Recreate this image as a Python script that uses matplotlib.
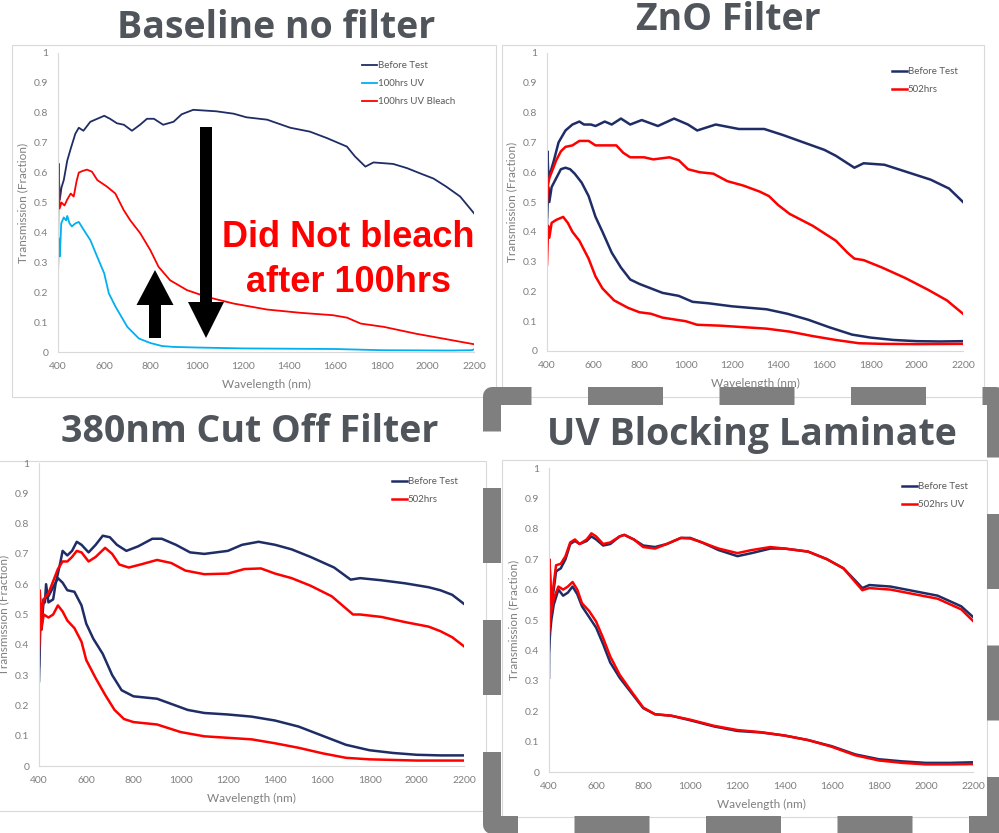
import numpy as np
import matplotlib
matplotlib.use('Agg')
import matplotlib.pyplot as plt
from matplotlib.patches import Rectangle, FancyArrow

plt.rcParams['lines.scale_dashes'] = False

W, H = 999, 833
NAVY = '#1f2d66'
RED = '#ff0000'
CYAN = '#00b0f0'
TITLE = '#4f555b'
TXT = '#7f7f7f'

# ---- data (wavelength nm, transmission fraction) ----
# Baseline no filter
base_before = np.array([[400, 0.47], [403, 0.60], [408, 0.51], [415, 0.55], [425, 0.575], [440, 0.64],
    [455, 0.68], [475, 0.73], [490, 0.75], [510, 0.74], [540, 0.77], [570, 0.78], [600, 0.79],
    [625, 0.78], [655, 0.765], [685, 0.76], [720, 0.74], [755, 0.76], [785, 0.78], [815, 0.78],
    [855, 0.76], [900, 0.77], [935, 0.795], [985, 0.81], [1085, 0.805], [1160, 0.797], [1215, 0.785],
    [1305, 0.777], [1405, 0.75], [1490, 0.737], [1565, 0.715], [1650, 0.687], [1685, 0.654],
    [1730, 0.62], [1765, 0.634], [1850, 0.629], [1910, 0.615], [1965, 0.598], [2025, 0.58],
    [2080, 0.553], [2140, 0.52], [2200, 0.464]])
base_uv = np.array([[400, 0.26], [404, 0.38], [408, 0.32], [414, 0.43], [425, 0.45], [435, 0.44],
    [440, 0.455], [450, 0.43], [460, 0.42], [475, 0.43], [490, 0.435], [510, 0.41], [540, 0.374],
    [570, 0.318], [600, 0.263], [620, 0.196], [650, 0.15], [700, 0.084], [750, 0.045], [800, 0.03],
    [850, 0.02], [900, 0.017], [1000, 0.015], [1200, 0.012], [1600, 0.01], [1800, 0.006],
    [2100, 0.005], [2190, 0.006], [2200, 0.009]])
base_bleach = np.array([[400, 0.28], [403, 0.63], [407, 0.48], [415, 0.50], [428, 0.49], [440, 0.51],
    [455, 0.53], [468, 0.52], [480, 0.57], [490, 0.60], [505, 0.605], [525, 0.61], [547, 0.603],
    [570, 0.575], [612, 0.553], [648, 0.53], [684, 0.475], [713, 0.44], [756, 0.397], [800, 0.34],
    [835, 0.285], [885, 0.24], [958, 0.207], [1045, 0.184], [1160, 0.162], [1305, 0.142],
    [1450, 0.131], [1590, 0.123], [1650, 0.115], [1710, 0.095], [1810, 0.084], [1950, 0.061],
    [2065, 0.045], [2200, 0.026]])

# ZnO Filter
zno_before_a = np.array([[400, 0.42], [402, 0.67], [406, 0.58], [415, 0.60], [430, 0.64], [450, 0.70],
    [465, 0.72], [480, 0.74], [510, 0.76], [540, 0.77], [560, 0.76], [590, 0.76], [610, 0.755],
    [650, 0.77], [680, 0.76], [720, 0.78], [760, 0.76], [810, 0.775], [880, 0.755], [950, 0.78],
    [1010, 0.76], [1050, 0.74], [1130, 0.76], [1230, 0.745], [1340, 0.745], [1420, 0.725],
    [1510, 0.70], [1600, 0.675], [1650, 0.655], [1730, 0.615], [1770, 0.63], [1860, 0.625],
    [1960, 0.60], [2060, 0.575], [2140, 0.545], [2200, 0.50]])
zno_before_b = np.array([[400, 0.45], [405, 0.55], [410, 0.50], [420, 0.55], [440, 0.58], [460, 0.61],
    [480, 0.615], [500, 0.61], [520, 0.595], [550, 0.565], [580, 0.52], [610, 0.45], [640, 0.40],
    [680, 0.33], [720, 0.28], [760, 0.24], [800, 0.225], [850, 0.21], [900, 0.195], [970, 0.185],
    [1030, 0.165], [1100, 0.16], [1200, 0.15], [1350, 0.14], [1440, 0.125], [1530, 0.105],
    [1620, 0.08], [1720, 0.055], [1800, 0.045], [1900, 0.037], [2000, 0.033], [2100, 0.032],
    [2200, 0.033]])
zno_502_a = np.array([[400, 0.50], [405, 0.56], [410, 0.58], [420, 0.60], [440, 0.64], [460, 0.67],
    [480, 0.685], [510, 0.69], [540, 0.705], [580, 0.705], [610, 0.69], [650, 0.69], [700, 0.69],
    [730, 0.665], [760, 0.65], [820, 0.65], [860, 0.643], [930, 0.65], [970, 0.64], [1010, 0.61],
    [1060, 0.60], [1120, 0.595], [1180, 0.57], [1250, 0.555], [1320, 0.535], [1360, 0.52],
    [1400, 0.49], [1450, 0.46], [1550, 0.42], [1650, 0.37], [1700, 0.33], [1730, 0.31],
    [1770, 0.305], [1850, 0.28], [1950, 0.245], [2050, 0.205], [2130, 0.17], [2200, 0.125]])
zno_502_b = np.array([[400, 0.29], [405, 0.42], [410, 0.38], [420, 0.43], [440, 0.44], [470, 0.45],
    [490, 0.43], [510, 0.40], [540, 0.37], [580, 0.31], [610, 0.25], [640, 0.21], [690, 0.17],
    [750, 0.145], [800, 0.13], [850, 0.125], [900, 0.112], [1000, 0.10], [1050, 0.088],
    [1150, 0.085], [1250, 0.08], [1350, 0.075], [1450, 0.065], [1550, 0.05], [1650, 0.037],
    [1750, 0.026], [1850, 0.024], [2000, 0.023], [2200, 0.024]])

# 380nm Cut Off Filter
cut_before_a = np.array([[400, 0.28], [405, 0.45], [410, 0.50], [420, 0.55], [425, 0.54], [430, 0.60],
    [440, 0.54], [460, 0.55], [470, 0.60], [490, 0.67], [500, 0.71], [520, 0.695], [540, 0.71],
    [560, 0.74], [580, 0.73], [610, 0.705], [640, 0.73], [670, 0.76], [700, 0.755], [730, 0.73],
    [770, 0.71], [820, 0.725], [880, 0.75], [920, 0.75], [980, 0.73], [1040, 0.705], [1100, 0.70],
    [1200, 0.71], [1260, 0.73], [1330, 0.74], [1400, 0.73], [1470, 0.715], [1550, 0.69],
    [1650, 0.655], [1720, 0.615], [1760, 0.62], [1850, 0.613], [1950, 0.603], [2050, 0.59],
    [2100, 0.58], [2150, 0.565], [2200, 0.535]])
cut_before_b = np.array([[400, 0.33], [405, 0.50], [410, 0.45], [420, 0.55], [440, 0.56], [460, 0.59],
    [480, 0.62], [500, 0.605], [520, 0.58], [550, 0.575], [580, 0.53], [600, 0.47], [630, 0.42],
    [670, 0.37], [710, 0.30], [750, 0.25], [800, 0.23], [900, 0.222], [960, 0.205], [1030, 0.185],
    [1100, 0.175], [1200, 0.17], [1300, 0.163], [1400, 0.15], [1500, 0.13], [1600, 0.10],
    [1700, 0.07], [1800, 0.052], [1900, 0.043], [2000, 0.037], [2100, 0.035], [2200, 0.035]])
cut_502_a = np.array([[400, 0.40], [403, 0.58], [410, 0.50], [420, 0.55], [440, 0.57], [460, 0.61],
    [480, 0.65], [500, 0.675], [520, 0.675], [540, 0.69], [560, 0.71], [580, 0.705], [610, 0.675],
    [640, 0.69], [680, 0.72], [710, 0.70], [740, 0.665], [780, 0.655], [830, 0.665], [900, 0.68],
    [960, 0.67], [1020, 0.645], [1100, 0.633], [1200, 0.635], [1270, 0.65], [1340, 0.652],
    [1400, 0.635], [1470, 0.62], [1550, 0.595], [1640, 0.56], [1700, 0.52], [1730, 0.50],
    [1760, 0.50], [1850, 0.492], [1950, 0.475], [2050, 0.46], [2100, 0.445], [2150, 0.425],
    [2200, 0.395]])
cut_502_b = np.array([[400, 0.38], [405, 0.50], [410, 0.45], [420, 0.50], [440, 0.49], [460, 0.50],
    [480, 0.53], [500, 0.51], [520, 0.48], [550, 0.455], [580, 0.41], [600, 0.35], [640, 0.29],
    [680, 0.235], [720, 0.185], [760, 0.155], [800, 0.145], [900, 0.137], [1000, 0.112],
    [1100, 0.098], [1200, 0.093], [1300, 0.088], [1400, 0.075], [1500, 0.06], [1600, 0.042],
    [1700, 0.027], [1800, 0.022], [2000, 0.018], [2200, 0.018]])

# UV Blocking Laminate
lam_before_a = np.array([[400, 0.31], [403, 0.67], [410, 0.55], [420, 0.60], [430, 0.66], [450, 0.67],
    [470, 0.70], [490, 0.75], [510, 0.76], [530, 0.75], [560, 0.76], [580, 0.775], [600, 0.765],
    [630, 0.745], [660, 0.75], [700, 0.775], [720, 0.78], [760, 0.765], [800, 0.745], [850, 0.74],
    [900, 0.75], [960, 0.77], [1000, 0.77], [1050, 0.755], [1120, 0.73], [1200, 0.71], [1260, 0.72],
    [1340, 0.735], [1400, 0.735], [1500, 0.725], [1580, 0.70], [1650, 0.67], [1700, 0.63],
    [1730, 0.605], [1760, 0.615], [1850, 0.61], [1950, 0.595], [2050, 0.58], [2150, 0.545],
    [2200, 0.51]])
lam_before_b = np.array([[400, 0.40], [405, 0.46], [410, 0.50], [420, 0.55], [440, 0.60], [460, 0.58],
    [480, 0.59], [500, 0.61], [520, 0.585], [540, 0.545], [570, 0.51], [600, 0.475], [630, 0.42],
    [660, 0.36], [700, 0.31], [750, 0.26], [800, 0.21], [850, 0.19], [920, 0.185], [1000, 0.17],
    [1100, 0.15], [1200, 0.135], [1300, 0.13], [1400, 0.12], [1500, 0.105], [1600, 0.085],
    [1700, 0.058], [1800, 0.042], [1900, 0.035], [2000, 0.03], [2100, 0.03], [2200, 0.032]])
lam_502_a = np.array([[400, 0.46], [402, 0.70], [410, 0.55], [420, 0.62], [430, 0.68], [450, 0.685],
    [470, 0.71], [490, 0.755], [510, 0.765], [530, 0.75], [560, 0.765], [580, 0.785], [600, 0.775],
    [630, 0.75], [660, 0.755], [700, 0.775], [720, 0.78], [760, 0.765], [800, 0.74], [850, 0.735],
    [900, 0.75], [960, 0.77], [1000, 0.768], [1050, 0.755], [1120, 0.735], [1200, 0.72],
    [1260, 0.73], [1340, 0.74], [1400, 0.735], [1500, 0.725], [1580, 0.70], [1650, 0.67],
    [1700, 0.625], [1730, 0.598], [1760, 0.605], [1850, 0.60], [1950, 0.585], [2050, 0.57],
    [2150, 0.535], [2200, 0.497]])
lam_502_b = np.array([[400, 0.46], [405, 0.50], [410, 0.53], [420, 0.57], [440, 0.61], [460, 0.60],
    [480, 0.61], [500, 0.625], [520, 0.60], [540, 0.555], [570, 0.53], [600, 0.495], [630, 0.44],
    [660, 0.38], [700, 0.32], [750, 0.265], [800, 0.212], [850, 0.19], [920, 0.185], [1000, 0.172],
    [1100, 0.152], [1200, 0.138], [1300, 0.131], [1400, 0.12], [1500, 0.105], [1600, 0.083],
    [1700, 0.055], [1800, 0.038], [1900, 0.03], [2000, 0.025], [2100, 0.025], [2200, 0.026]])

x_ticks = [400, 600, 800, 1000, 1200, 1400, 1600, 1800, 2000, 2200]
y_ticks = [0, 0.1, 0.2, 0.3, 0.4, 0.5, 0.6, 0.7, 0.8, 0.9, 1]

fig = plt.figure(figsize=(W / 100, H / 100), dpi=100)
fig.patch.set_facecolor('white')

# background layer in pixel coords: chart boxes + titles
bg = fig.add_axes([0, 0, 1, 1], zorder=0)
bg.set_xlim(0, W)
bg.set_ylim(H, 0)
bg.axis('off')

boxes = [(12, 45, 496, 397), (502, 45, 984, 397), (-2, 461, 486, 811), (502, 460, 987, 817)]
for l, t, r, b in boxes:
    bg.add_patch(Rectangle((l, t), r - l, b - t, facecolor='white', edgecolor='#d9d9d9', lw=0.8))

title_kw = dict(ha='center', va='baseline', fontsize=27, fontweight='bold', color=TITLE, family='Open Sans')
bg.text(276, 38, 'Baseline no filter', **title_kw)
bg.text(728, 30, 'ZnO Filter', **title_kw)
bg.text(250, 442, '380nm Cut Off Filter', **title_kw)
bg.text(752, 445, 'UV Blocking Laminate', **title_kw)


def make_axes(l, t, r, b):
    ax = fig.add_axes([l / W, 1 - b / H, (r - l) / W, (b - t) / H], zorder=1)
    ax.set_facecolor('none')
    ax.set_xlim(400, 2200)
    ax.set_ylim(0, 1)
    ax.set_xticks(x_ticks)
    ax.set_yticks(y_ticks)
    ax.set_yticklabels([f'{v:g}' for v in y_ticks])
    for s in ['top', 'right']:
        ax.spines[s].set_visible(False)
    for s in ['left', 'bottom']:
        ax.spines[s].set_color('#d9d9d9')
        ax.spines[s].set_linewidth(0.8)
    ax.tick_params(length=0, labelsize=7.5, labelcolor=TXT, pad=7)
    for lab in ax.get_xticklabels() + ax.get_yticklabels():
        lab.set_family('Lato')
    ax.set_xlabel('Wavelength (nm)', fontsize=8.5, color=TXT, family='Lato')
    ax.set_ylabel('Transmission (Fraction)', fontsize=8.5, color=TXT, family='Lato')
    ax.xaxis.set_label_coords(0.5, -32 / (b - t))
    ax.xaxis.label.set_va('center')
    ax.yaxis.set_label_coords(-35 / (r - l), 0.5)
    ax.yaxis.label.set_va('center')
    return ax


def add_legend(ax, x, y):
    ax.legend(loc='upper left', bbox_to_anchor=(x / W, 1 - y / H), bbox_transform=fig.transFigure,
              frameon=False, prop={'family': 'Lato', 'size': 7}, labelcolor='#595959',
              handlelength=1.5, handletextpad=0.1, labelspacing=0.95, borderpad=0, borderaxespad=0)


# panel 1
ax1 = make_axes(58, 53, 474, 352)
ax1.plot(base_before[:, 0], base_before[:, 1], color=NAVY, lw=1.3, label='Before Test')
ax1.plot(base_uv[:, 0], base_uv[:, 1], color=CYAN, lw=1.3, label='100hrs UV')
ax1.plot(base_bleach[:, 0], base_bleach[:, 1], color=RED, lw=1.3, label='100hrs UV Bleach')
add_legend(ax1, 362, 61)

# panel 2
ax2 = make_axes(547, 53, 963, 351)
ax2.plot(zno_before_a[:, 0], zno_before_a[:, 1], color=NAVY, lw=1.8, label='Before Test')
ax2.plot(zno_before_b[:, 0], zno_before_b[:, 1], color=NAVY, lw=1.8)
ax2.plot(zno_502_a[:, 0], zno_502_a[:, 1], color=RED, lw=1.8, label='502hrs')
ax2.plot(zno_502_b[:, 0], zno_502_b[:, 1], color=RED, lw=1.8)
add_legend(ax2, 892, 67)

# panel 3
ax3 = make_axes(39, 463, 464, 766)
ax3.plot(cut_before_a[:, 0], cut_before_a[:, 1], color=NAVY, lw=1.8, label='Before Test')
ax3.plot(cut_before_b[:, 0], cut_before_b[:, 1], color=NAVY, lw=1.8)
ax3.plot(cut_502_a[:, 0], cut_502_a[:, 1], color=RED, lw=1.8, label='502hrs')
ax3.plot(cut_502_b[:, 0], cut_502_b[:, 1], color=RED, lw=1.8)
add_legend(ax3, 392, 477)

# panel 4
ax4 = make_axes(549, 468, 973, 772)
ax4.plot(lam_before_a[:, 0], lam_before_a[:, 1], color=NAVY, lw=1.8, label='Before Test')
ax4.plot(lam_before_b[:, 0], lam_before_b[:, 1], color=NAVY, lw=1.8)
ax4.plot(lam_502_a[:, 0], lam_502_a[:, 1], color=RED, lw=1.8, label='502hrs UV')
ax4.plot(lam_502_b[:, 0], lam_502_b[:, 1], color=RED, lw=1.8)
add_legend(ax4, 902, 482)

# foreground layer: arrows, callout text, dashed frame
fg = fig.add_axes([0, 0, 1, 1], zorder=5)
fg.set_facecolor('none')
fg.set_xlim(0, W)
fg.set_ylim(H, 0)
fg.axis('off')

fg.add_patch(FancyArrow(155, 338, 0, -68, width=12, head_width=37, head_length=35,
                        length_includes_head=True, color='black', lw=0))
fg.add_patch(FancyArrow(206, 127, 0, 211, width=12, head_width=36, head_length=36,
                        length_includes_head=True, color='black', lw=0))
red_kw = dict(ha='center', va='baseline', fontsize=26, fontweight='bold', color=RED, family='Liberation Sans')
fg.text(348, 247, 'Did Not bleach', **red_kw)
fg.text(348, 292, 'after 100hrs', **red_kw)

# dashed frame around the laminate panel (px; 1 px = 0.72 pt)
fl, ft, fr, fb = 492, 396, 996, 825
frame_kw = dict(color='#7f7f7f', lw=18 * 0.72, clip_on=False)
period, on = 131.5, 75
fg.plot([fl, fl, fr, fr, fl, fl], [592, ft, ft, fb, fb, 752],
        linestyle=((period - 29) * 0.72, (on * 0.72, (period - on) * 0.72)),
        dash_joinstyle='round', dash_capstyle='butt', **frame_kw)
fg.plot([fl, fl], [790, 752], solid_capstyle='butt', **frame_kw)
fg.plot([fl, fl], [695, 620], solid_capstyle='butt', **frame_kw)

fig.savefig('out.png', dpi=100)
